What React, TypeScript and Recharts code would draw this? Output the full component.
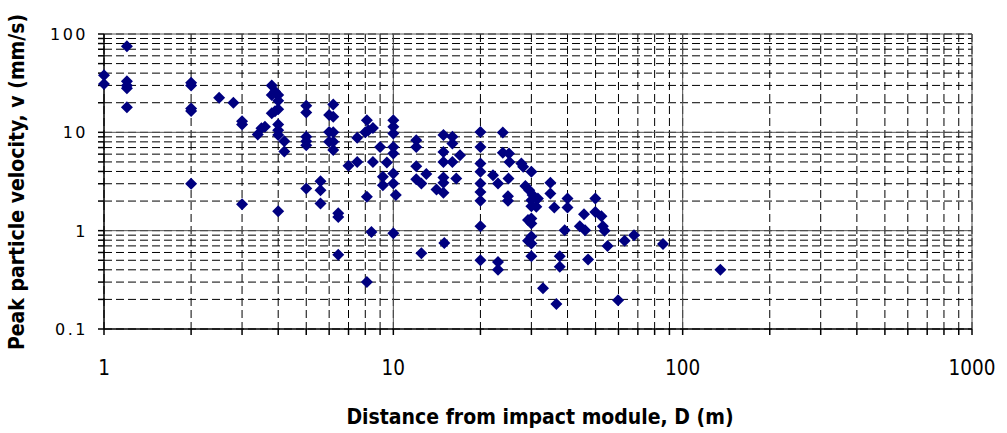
import {
  ScatterChart,
  Scatter,
  XAxis,
  YAxis,
  CartesianGrid,
  ReferenceLine,
} from "recharts";

// distance D (m) and peak particle velocity v (mm/s)
const distance = [
  1, 1,
  1.2, 1.2, 1.2, 1.2, 1.2,
  2, 2, 2, 2, 2,
  2.5, 2.8,
  3, 3, 3,
  3.4, 3.5, 3.6,
  3.8, 3.9, 4, 3.8, 4, 3.8, 3.9, 4, 4, 4, 4, 4.2, 4.2, 4,
  5, 5, 5, 5, 5, 5,
  5.6, 5.6, 5.6,
  6.2, 6, 6.2, 6, 6.2, 6, 6.2, 6.2, 6.45, 6.45, 6.45,
  7, 7.5, 7.5,
  8.1, 8, 8.2, 8.5, 9, 8.5, 9.5, 9.2, 9.2, 8.1, 8.4, 8.1,
  10, 10, 10, 10, 10, 10, 10, 10.2, 10,
  12, 12, 12, 12, 12.5, 13, 12.5,
  14.1, 14.9, 14.9, 16, 14.9, 16, 14.9, 16, 17, 14.9, 14.9, 16.5, 15,
  20, 20, 20, 20, 20, 20, 20, 20, 20,
  22.1, 23, 23, 23,
  23.9, 23.9, 25.1, 25.2, 25, 24.9, 24.9,
  27.7, 28.1, 30, 28.6, 29.5, 30.3, 31.6, 30, 31.2, 30, 30, 30, 30, 29.2, 30, 30, 29.2,
  32.9, 36.6,
  34.9, 34.9, 36, 37.6, 37.6,
  40, 40, 39.1,
  45.6, 44.1, 46, 47.1,
  49.9, 49.9, 52.4, 53, 53.7, 55,
  59.8, 63, 67.9, 85.5, 135,
];

const velocity = [
  38, 31,
  75, 33, 30, 28, 18,
  32, 30, 17.5, 16.5, 3,
  22.5, 20,
  13, 12, 1.86,
  9.5, 11, 11.4,
  30, 26, 24, 24, 21, 15.6, 16.4, 17.2, 12, 10.5, 9.4, 8.1, 6.4, 1.58,
  18.6, 15.9, 9, 8.1, 7.4, 2.69,
  3.19, 2.58, 1.89,
  19.2, 15, 14.4, 10.1, 10, 8, 8, 6.6, 1.5, 1.38, 0.57,
  4.56, 5, 8.8,
  13.3, 10, 10.5, 11.1, 7.1, 5, 4.94, 3.53, 2.9, 2.21, 0.97, 0.3,
  13.3, 11.4, 9.75, 7.1, 6.1, 3.82, 3.02, 2.3, 0.94,
  8.3, 7.1, 4.53, 3.34, 3.02, 3.76, 0.59,
  2.62, 2.43, 9.4, 9, 6.3, 7.7, 5, 5, 5.86, 3.48, 3.07, 3.4, 0.75,
  10.1, 7.1, 4.83, 3.97, 3.02, 2.48, 2.01, 1.11, 0.5,
  3.67, 3.02, 0.48, 0.4,
  9.96, 6.2, 6.1, 5, 3.4, 2.24, 2.01,
  4.83, 4.46, 3.97, 2.84, 2.58, 2.3, 2.13, 2.04, 1.75, 1.77, 1.33, 1.18, 0.87, 0.79, 0.74, 0.55, 1.28,
  0.26, 0.18,
  3.07, 2.39, 1.72, 0.55, 0.43,
  2.13, 1.72, 1.01,
  1.47, 1.11, 1.01, 0.51,
  2.13, 1.55, 1.4, 1.11, 1.0, 0.7,
  0.196, 0.79, 0.9, 0.73, 0.4,
];

const xMajor = [1, 10, 100, 1000];
const xTicks = [
  1, 2, 3, 4, 5, 6, 7, 8, 9,
  10, 20, 30, 40, 50, 60, 70, 80, 90,
  100, 200, 300, 400, 500, 600, 700, 800, 900, 1000,
];
const yMajor = [0.1, 1, 10, 100];
const yTicks = [
  0.1, 0.2, 0.3, 0.4, 0.5, 0.6, 0.7, 0.8, 0.9,
  1, 2, 3, 4, 5, 6, 7, 8, 9,
  10, 20, 30, 40, 50, 60, 70, 80, 90, 100,
];

const data = distance.map((d, i) => ({ d, v: velocity[i] }));

const condensed = "'DejaVu Sans Condensed', 'DejaVu Sans', sans-serif";

const Diamond = (props: any) => {
  const { cx, cy } = props;
  if (cx == null || cy == null) return <g />;
  const r = 6;
  return (
    <polygon
      points={`${cx},${cy - r} ${cx + r},${cy} ${cx},${cy + r} ${cx - r},${cy}`}
      fill="#000080"
    />
  );
};

const XTick = (props: any) => {
  const { x, payload } = props;
  if (!xMajor.includes(payload.value)) return <g />;
  return (
    <text
      x={x}
      y={375}
      textAnchor="middle"
      fontFamily={condensed}
      style={{ fontStretch: "condensed" }}
      fontSize={20.5}
      fill="#000"
    >
      {payload.value}
    </text>
  );
};

const YTick = (props: any) => {
  const { y, payload } = props;
  if (!yMajor.includes(payload.value)) return <g />;
  return (
    <text
      x={88}
      y={y + 6}
      textAnchor="end"
      fontFamily="'DejaVu Sans', Verdana, sans-serif"
      fontSize={16}
      letterSpacing={2.5}
      fill="#000"
    >
      {payload.value}
    </text>
  );
};

export default function App() {
  return (
    <div style={{ position: "absolute", left: 0, top: 0, width: 1007, height: 433, background: "#fff" }}>
      <ScatterChart
        width={1007}
        height={433}
        margin={{ top: 34, right: 35, bottom: 0, left: 0 }}
      >
        <CartesianGrid stroke="#000" strokeDasharray="8 4" strokeWidth={1} />
        <XAxis
          type="number"
          dataKey="d"
          scale="log"
          domain={[1, 1000]}
          ticks={xTicks}
          interval={0}
          height={104}
          tick={<XTick />}
          tickSize={6}
          stroke="#000"
          strokeWidth={1.5}
        />
        <YAxis
          type="number"
          dataKey="v"
          scale="log"
          domain={[0.1, 100]}
          ticks={yTicks}
          interval={0}
          width={104}
          tick={<YTick />}
          tickSize={6}
          stroke="#000"
          strokeWidth={1.5}
        />
        {xMajor.slice(1).map((v) => (
          <ReferenceLine key={`x${v}`} x={v} stroke="#555" strokeWidth={1} />
        ))}
        {yMajor.slice(1).map((v) => (
          <ReferenceLine key={`y${v}`} y={v} stroke="#555" strokeWidth={1} />
        ))}
        <Scatter data={data} shape={<Diamond />} isAnimationActive={false} />
      </ScatterChart>
      <div
        style={{
          position: "absolute",
          left: 0,
          top: 404,
          width: 1080,
          textAlign: "center",
          fontFamily: condensed,
          fontStretch: "condensed",
          fontWeight: "bold",
          fontSize: 21,
          lineHeight: "26px",
        }}
      >
        Distance from impact module, D (m)
      </div>
      <div
        style={{
          position: "absolute",
          left: 17,
          top: 182,
          transform: "translate(-50%, -50%) rotate(-90deg)",
          whiteSpace: "nowrap",
          fontFamily: condensed,
          fontStretch: "condensed",
          fontWeight: "bold",
          fontSize: 21,
          lineHeight: "26px",
        }}
      >
        Peak particle velocity, v (mm/s)
      </div>
    </div>
  );
}
